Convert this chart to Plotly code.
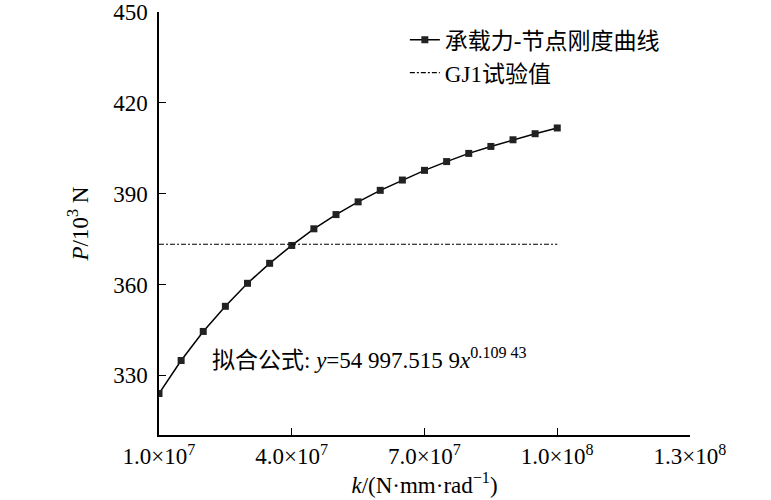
import plotly.graph_objects as go

# joint stiffness k (N·mm/rad) and bearing capacity P (10^3 N)
k_values = [1.0e7, 1.5e7, 2.0e7, 2.5e7, 3.0e7, 3.5e7, 4.0e7, 4.5e7, 5.0e7, 5.5e7,
            6.0e7, 6.5e7, 7.0e7, 7.5e7, 8.0e7, 8.5e7, 9.0e7, 9.5e7, 1.0e8]
p_values = [324.0, 334.9, 344.5, 352.8, 360.4, 367.0, 372.9, 378.4, 383.1, 387.3,
            391.1, 394.5, 397.7, 400.6, 403.3, 405.6, 407.8, 409.8, 411.7]
test_k = [1.0e7, 1.0e8]
test_p = [373.3, 373.3]

x_ticks = [1.0e7, 4.0e7, 7.0e7, 1.0e8, 1.3e8]
x_ticktext = ['1.0×10<sup>7</sup>', '4.0×10<sup>7</sup>', '7.0×10<sup>7</sup>',
              '1.0×10<sup>8</sup>', '1.3×10<sup>8</sup>']
y_ticks = [330, 360, 390, 420, 450]

FONT = 'Liberation Serif, Noto Sans CJK SC, serif'
tick_font = dict(family=FONT, size=23, color='black')

fig = go.Figure()
fig.add_trace(go.Scatter(
    x=k_values, y=p_values, mode='lines+markers', name='承载力-节点刚度曲线',
    line=dict(color='black', width=1.5),
    marker=dict(symbol='square', size=7, color='#222222')
))
fig.add_trace(go.Scatter(
    x=test_k, y=test_p, mode='lines', name='GJ1试验值',
    line=dict(color='black', width=1.2, dash='5px,2px,2px,2px')
))

fig.add_annotation(
    x=2.15e7, y=335.6, xref='x', yref='y', xanchor='left', yanchor='middle',
    text='拟合公式: <i>y</i>=54 997.515 9<i>x</i><sup>0.109 43</sup>',
    showarrow=False, font=dict(family=FONT, size=23, color='black')
)

fig.update_layout(
    width=771, height=500,
    margin=dict(l=159, r=81, t=12, b=65),
    paper_bgcolor='white', plot_bgcolor='white',
    font=dict(family=FONT, size=23, color='black'),
    showlegend=True,
    legend=dict(x=0.463, y=0.985, xanchor='left', yanchor='top',
                bgcolor='rgba(0,0,0,0)', font=dict(family=FONT, size=23),
                tracegroupgap=2)
)
fig.update_xaxes(
    range=[1.0e7, 1.3e8], tickvals=x_ticks, ticktext=x_ticktext,
    showline=True, linecolor='black', linewidth=1.5, showgrid=False,
    zeroline=False, ticks='inside', ticklen=7, tickcolor='black',
    tickfont=tick_font, automargin=False, ticklabelstandoff=0,
    title=dict(text='<i>k</i>/(N·mm·rad<sup>−1</sup>)', standoff=8,
               font=dict(family=FONT, size=23))
)
fig.update_yaxes(
    range=[310.3, 450], tickvals=y_ticks,
    showline=True, linecolor='black', linewidth=1.5, showgrid=False,
    zeroline=False, ticks='inside', ticklen=7, tickcolor='black',
    tickfont=tick_font, automargin=False, ticklabelstandoff=5,
    title=dict(text='<i>P</i>/10<sup>3</sup> N', standoff=18,
               font=dict(family=FONT, size=23))
)

# drop the default 8px body margin so the figure sits at the window corner
fig.write_html("out.html", config={'displayModeBar': False},
               post_script="document.body.style.margin='0';")
